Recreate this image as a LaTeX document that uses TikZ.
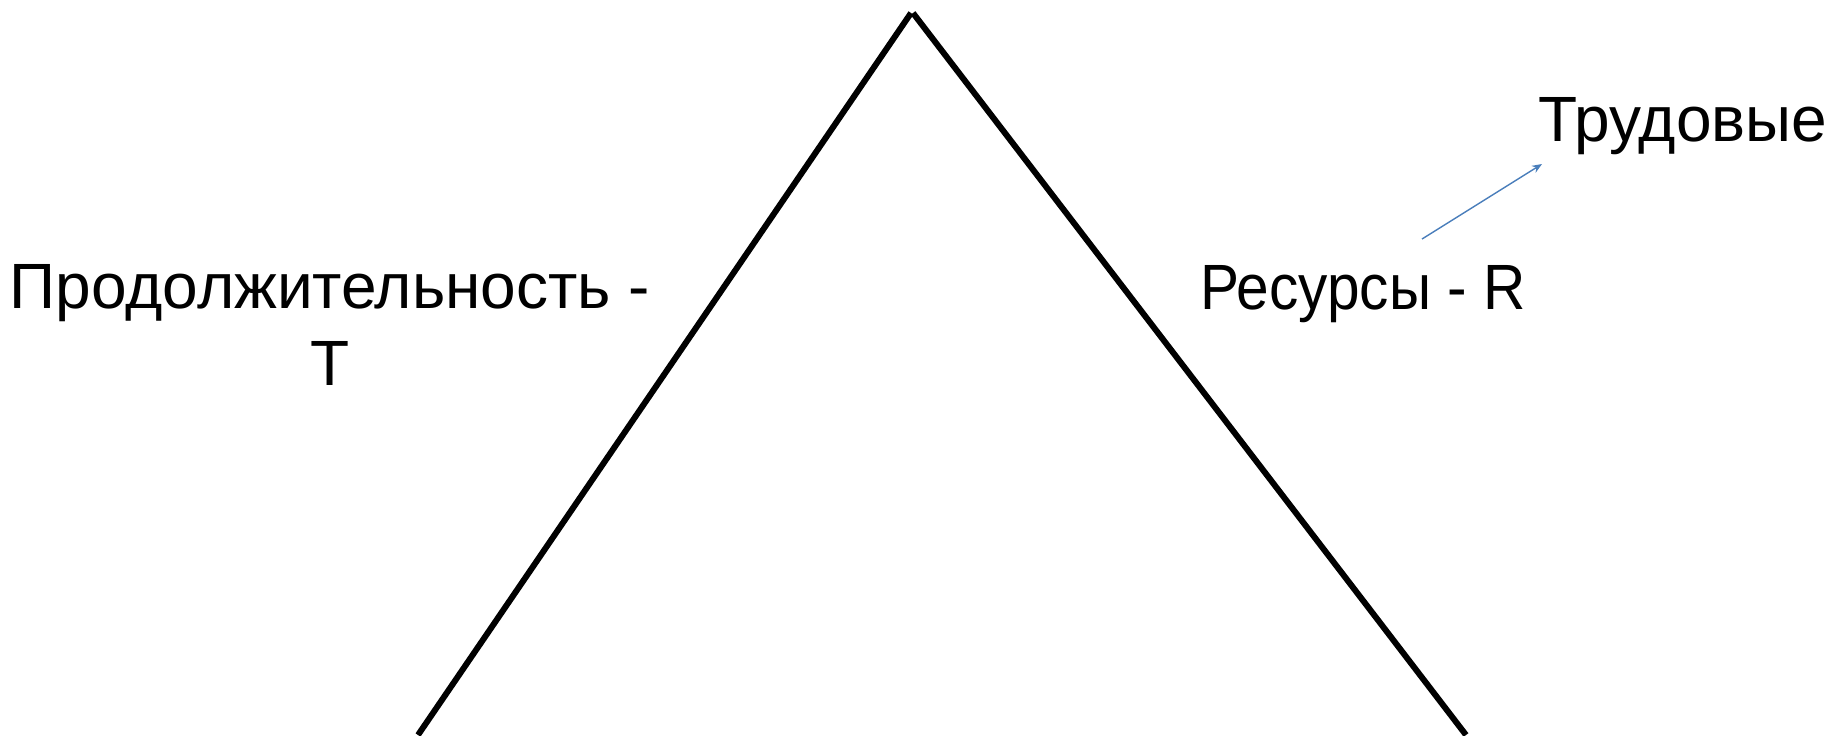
\documentclass[tikz,border=0pt]{standalone}
\usepackage{fontspec}
\usepackage{graphicx}
\setmainfont{Liberation Sans}
\usetikzlibrary{arrows.meta}
\definecolor{arrowblue}{HTML}{4A7EBB}
\tikzset{
  edge/.style={line width=3pt, black},
  lbl/.style={font=\fontsize{32}{38.5}\selectfont, inner sep=0pt, anchor=base, align=center},
  ptr/.style={arrowblue, line width=0.7pt, -{Stealth[length=5pt,width=4pt]}}
}
\begin{document}
\begin{tikzpicture}[x=0.5pt,y=-0.5pt]
\useasboundingbox (0,0) rectangle (1845,735);
\coordinate (apexL) at (911,13);
\coordinate (apexR) at (913,13);
\coordinate (baseL) at (418,735);
\coordinate (baseR) at (1466,735);
\draw[edge] (baseL) -- (apexL);
\draw[edge] (apexR) -- (baseR);
\node[lbl] (dur) at (330,385) {Продолжительность -\\T};
\node[lbl] (res) at (1363,309) {\scalebox{0.915}[1]{Ресурсы - R}};
\node[lbl] (lab) at (1683,141) {Трудовые};
\coordinate (ptrStart) at (1422,239);
\coordinate (ptrEnd) at (1542,164);
\draw[ptr] (ptrStart) -- (ptrEnd);
\end{tikzpicture}
\end{document}
